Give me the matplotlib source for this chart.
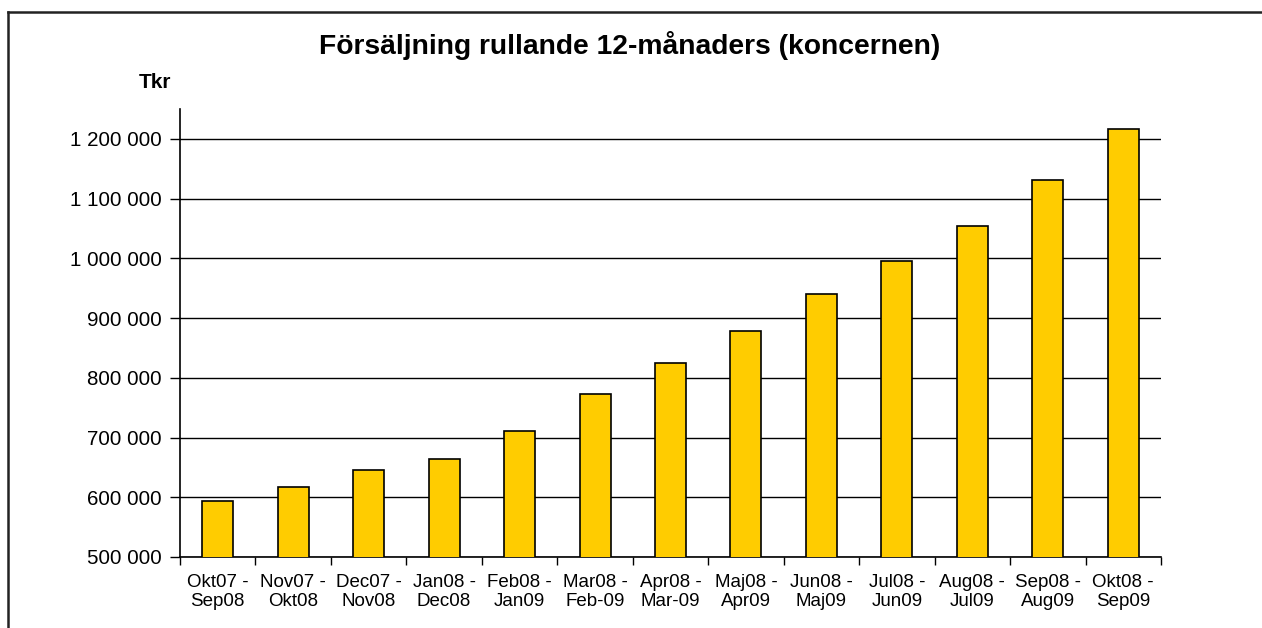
import matplotlib
matplotlib.use('Agg')
import matplotlib.pyplot as plt
from matplotlib.ticker import FuncFormatter
from matplotlib.lines import Line2D

# rullande 12-månaders perioder
perioder = ['Okt07 -\nSep08', 'Nov07 -\nOkt08', 'Dec07 -\nNov08', 'Jan08 -\nDec08',
            'Feb08 -\nJan09', 'Mar08 -\nFeb-09', 'Apr08 -\nMar-09', 'Maj08 -\nApr09',
            'Jun08 -\nMaj09', 'Jul08 -\nJun09', 'Aug08 -\nJul09', 'Sep08 -\nAug09',
            'Okt08 -\nSep09']
forsaljning = [593500, 617000, 645000, 664000, 711000, 773500, 825500,
               878000, 940000, 996000, 1053500, 1131000, 1217000]
yticks = [500000, 600000, 700000, 800000, 900000, 1000000, 1100000, 1200000]

plt.rcParams['font.family'] = ['Liberation Sans', 'DejaVu Sans']

fig = plt.figure(figsize=(12.62, 6.28), dpi=100)
ax = fig.add_axes([0.1426, 0.1131, 0.7774, 0.7133])

x = range(len(perioder))
ax.bar(x, forsaljning, width=0.41, color='#FFCC00', edgecolor='black',
       linewidth=1.2, zorder=3)

ax.set_xlim(-0.5, len(perioder) - 0.5)
ax.set_ylim(500000, 1250000)
ax.set_yticks(yticks)
ax.yaxis.set_major_formatter(FuncFormatter(lambda v, p: f'{int(v):,}'.replace(',', ' ')))
ax.grid(axis='y', color='black', linewidth=1, zorder=0)

ax.set_xticks(list(x))
ax.set_xticklabels(perioder, fontsize=13.5, linespacing=1.15)
ax.set_xticks([i - 0.5 for i in range(len(perioder) + 1)], minor=True)
ax.tick_params(axis='x', which='major', length=0, pad=12)
ax.tick_params(axis='x', which='minor', length=6, width=1, direction='out')
ax.tick_params(axis='y', labelsize=14.8, length=7, width=1, pad=6)

for s in ['top', 'right']:
    ax.spines[s].set_visible(False)
for s in ['left', 'bottom']:
    ax.spines[s].set_linewidth(1.2)

fig.text(0.499, 0.928, 'Försäljning rullande 12-månaders (koncernen)',
         ha='center', va='center', fontsize=20.3, fontweight='bold')
fig.text(0.1225, 0.868, 'Tkr', ha='center', va='center', fontsize=15,
         fontweight='bold')

# ram uppe och till vänster
fig.add_artist(Line2D([8 / 1262, 1], [1 - 12 / 628, 1 - 12 / 628],
                      transform=fig.transFigure, color='#222222', linewidth=1.8))
fig.add_artist(Line2D([8 / 1262, 8 / 1262], [0, 1 - 12 / 628],
                      transform=fig.transFigure, color='#222222', linewidth=1.8))

fig.savefig('out.png', dpi=100)
